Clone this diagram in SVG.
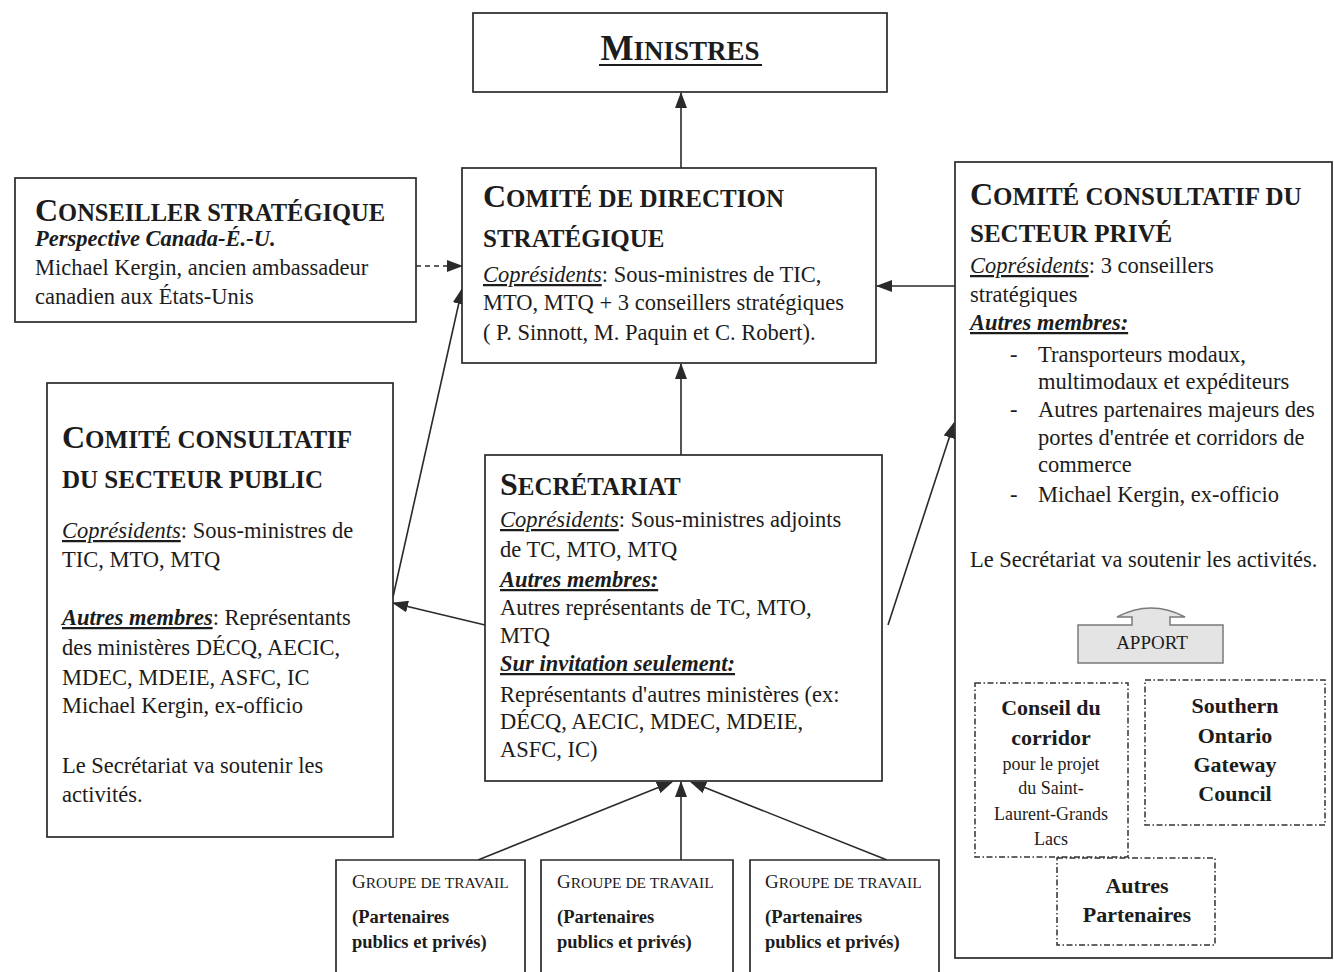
<svg xmlns="http://www.w3.org/2000/svg" width="1334" height="972" viewBox="0 0 1334 972">
<defs>
<style>
.t{font-family:"Liberation Serif","Times New Roman",serif;fill:#1c1c1c}
.b{font-size:22.5px}
.hd{font-weight:bold}
.box{fill:#fff;stroke:#2a2a2a;stroke-width:1.7}
.dd{fill:none;stroke:#333;stroke-width:1.5;stroke-dasharray:6 2.5 1.5 2.5}
.c{stroke:#2a2a2a;stroke-width:1.6;fill:none}
.u{text-decoration:underline}
.i{font-style:italic}
.bi{font-style:italic;font-weight:bold;text-decoration:underline}
.g{font-size:18.5px;font-weight:bold}
.sc{font-size:25px}
.cap{font-size:32px}
.gw{font-size:15.5px}
</style>
<marker id="ah" markerUnits="userSpaceOnUse" markerWidth="16" markerHeight="12" refX="15" refY="6" orient="auto">
<path d="M0,0 L16,6 L0,12 Z" fill="#2a2a2a"/>
</marker>
</defs>
<rect x="0" y="0" width="1334" height="972" fill="#fff"/>

<g id="connectors">
<line class="c" x1="681" y1="168" x2="681" y2="93" marker-end="url(#ah)"/>
<line class="c" x1="416" y1="266" x2="462" y2="266" stroke-dasharray="5 4" marker-end="url(#ah)"/>
<line class="c" x1="393" y1="597" x2="462" y2="289" marker-end="url(#ah)"/>
<line class="c" x1="955" y1="286" x2="877" y2="286" marker-end="url(#ah)"/>
<line class="c" x1="681" y1="455" x2="681" y2="364" marker-end="url(#ah)"/>
<line class="c" x1="485" y1="625" x2="393" y2="603" marker-end="url(#ah)"/>
<line class="c" x1="888" y1="625" x2="954" y2="423" marker-end="url(#ah)"/>
<line class="c" x1="478" y1="860" x2="672" y2="782" marker-end="url(#ah)"/>
<line class="c" x1="681" y1="860" x2="681" y2="782" marker-end="url(#ah)"/>
<line class="c" x1="887" y1="860" x2="691" y2="782" marker-end="url(#ah)"/>
</g>

<g id="ministres">
<rect class="box" x="473" y="13" width="414" height="79" stroke-width="2.4"/>
<text class="t hd" x="680" y="60" text-anchor="middle"><tspan font-size="35">M</tspan><tspan font-size="27">INISTRES</tspan></text>
<line x1="599" y1="65" x2="762" y2="65" stroke="#1c1c1c" stroke-width="2.2"/>
</g>

<g id="conseiller">
<rect class="box" x="15" y="178" width="401" height="144"/>
<text class="t hd" x="35" y="221"><tspan class="cap">C</tspan><tspan font-size="24.5">ONSEILLER STRATÉGIQUE</tspan></text>
<text class="t b" x="35" y="246" font-style="italic" font-weight="bold" font-size="20">Perspective Canada-É.-U.</text>
<text class="t b" x="35" y="275">Michael Kergin, ancien ambassadeur</text>
<text class="t b" x="35" y="304">canadien aux États-Unis</text>
</g>

<g id="direction">
<rect class="box" x="462" y="168" width="414" height="195"/>
<text class="t hd" x="483" y="207"><tspan class="cap">C</tspan><tspan class="sc">OMITÉ DE DIRECTION</tspan></text>
<text class="t hd sc" x="483" y="247">STRATÉGIQUE</text>
<text class="t b" x="483" y="282"><tspan class="i u">Coprésidents</tspan>: Sous-ministres de TIC,</text>
<text class="t b" x="483" y="310">MTO, MTQ + 3 conseillers stratégiques</text>
<text class="t b" x="483" y="340">( P. Sinnott, M. Paquin et C. Robert).</text>
</g>

<g id="prive">
<rect class="box" x="955" y="162" width="377" height="796"/>
<text class="t hd" x="970" y="205"><tspan class="cap">C</tspan><tspan class="sc">OMITÉ CONSULTATIF DU</tspan></text>
<text class="t hd sc" x="970" y="242">SECTEUR PRIVÉ</text>
<text class="t b" x="970" y="273"><tspan class="i u">Coprésidents</tspan>: 3 conseillers</text>
<text class="t b" x="970" y="302">stratégiques</text>
<text class="t b" x="970" y="330"><tspan class="bi">Autres membres:</tspan></text>
<text class="t b" x="1010" y="362">-</text>
<text class="t b" x="1038" y="362">Transporteurs modaux,</text>
<text class="t b" x="1038" y="389">multimodaux et expéditeurs</text>
<text class="t b" x="1010" y="417">-</text>
<text class="t b" x="1038" y="417">Autres partenaires majeurs des</text>
<text class="t b" x="1038" y="445">portes d'entrée et corridors de</text>
<text class="t b" x="1038" y="472">commerce</text>
<text class="t b" x="1010" y="502">-</text>
<text class="t b" x="1038" y="502">Michael Kergin, ex-officio</text>
<text class="t b" x="970" y="567">Le Secrétariat va soutenir les activités.</text>
</g>

<g id="apport">
<path d="M1078,625 H1132 V617 H1117 Q1151,599 1185,617 H1170 V625 H1223 V663 H1078 Z" fill="#e4e4e4" stroke="#7a7a7a" stroke-width="1.5"/>
<text class="t" x="1152" y="649" text-anchor="middle" font-size="19" fill="#3a3a3a">APPORT</text>
</g>

<g id="conseil-corridor">
<rect class="dd" x="975" y="683" width="153" height="174"/>
<text class="t hd" x="1051" y="715" text-anchor="middle" font-size="22">Conseil du</text>
<text class="t hd" x="1051" y="745" text-anchor="middle" font-size="22">corridor</text>
<text class="t" x="1051" y="770" text-anchor="middle" font-size="18">pour le projet</text>
<text class="t" x="1051" y="794" text-anchor="middle" font-size="18">du Saint-</text>
<text class="t" x="1051" y="820" text-anchor="middle" font-size="18">Laurent-Grands</text>
<text class="t" x="1051" y="845" text-anchor="middle" font-size="18">Lacs</text>
</g>

<g id="southern">
<rect class="dd" x="1145" y="680" width="180" height="145"/>
<text class="t hd" x="1235" y="713" text-anchor="middle" font-size="22">Southern</text>
<text class="t hd" x="1235" y="743" text-anchor="middle" font-size="22">Ontario</text>
<text class="t hd" x="1235" y="772" text-anchor="middle" font-size="22">Gateway</text>
<text class="t hd" x="1235" y="801" text-anchor="middle" font-size="22">Council</text>
</g>

<g id="autres-partenaires">
<rect class="dd" x="1057" y="858" width="158" height="87"/>
<text class="t hd" x="1137" y="893" text-anchor="middle" font-size="22">Autres</text>
<text class="t hd" x="1137" y="922" text-anchor="middle" font-size="22">Partenaires</text>
</g>

<g id="public">
<rect class="box" x="47" y="383" width="346" height="454"/>
<text class="t hd" x="62" y="448"><tspan class="cap">C</tspan><tspan class="sc">OMITÉ CONSULTATIF</tspan></text>
<text class="t hd sc" x="62" y="488">DU SECTEUR PUBLIC</text>
<text class="t b" x="62" y="538"><tspan class="i u">Coprésidents</tspan>: Sous-ministres de</text>
<text class="t b" x="62" y="567">TIC, MTO, MTQ</text>
<text class="t b" x="62" y="625"><tspan class="bi">Autres membres</tspan>: Représentants</text>
<text class="t b" x="62" y="655">des ministères DÉCQ, AECIC,</text>
<text class="t b" x="62" y="685">MDEC, MDEIE, ASFC, IC</text>
<text class="t b" x="62" y="713">Michael Kergin, ex-officio</text>
<text class="t b" x="62" y="773">Le Secrétariat va soutenir les</text>
<text class="t b" x="62" y="802">activités.</text>
</g>

<g id="secretariat">
<rect class="box" x="485" y="455" width="397" height="326"/>
<text class="t hd" x="500" y="495"><tspan class="cap">S</tspan><tspan class="sc">ECRÉTARIAT</tspan></text>
<text class="t b" x="500" y="527"><tspan class="i u">Coprésidents</tspan>: Sous-ministres adjoints</text>
<text class="t b" x="500" y="557">de TC, MTO, MTQ</text>
<text class="t b" x="500" y="587"><tspan class="bi">Autres membres:</tspan></text>
<text class="t b" x="500" y="615">Autres représentants de TC, MTO,</text>
<text class="t b" x="500" y="643">MTQ</text>
<text class="t b" x="500" y="671"><tspan class="bi">Sur invitation seulement:</tspan></text>
<text class="t b" x="500" y="702">Représentants d'autres ministères (ex:</text>
<text class="t b" x="500" y="729">DÉCQ, AECIC, MDEC, MDEIE,</text>
<text class="t b" x="500" y="757">ASFC, IC)</text>
</g>

<g id="groupe1">
<path class="box" d="M336,975 V860 H525 V975"/>
<text class="t" x="352" y="888"><tspan font-size="19">G</tspan><tspan class="gw">ROUPE DE TRAVAIL</tspan></text>
<text class="t g" x="352" y="923">(Partenaires</text>
<text class="t g" x="352" y="948">publics et privés)</text>
</g>
<g id="groupe2">
<path class="box" d="M541,975 V860 H733 V975"/>
<text class="t" x="557" y="888"><tspan font-size="19">G</tspan><tspan class="gw">ROUPE DE TRAVAIL</tspan></text>
<text class="t g" x="557" y="923">(Partenaires</text>
<text class="t g" x="557" y="948">publics et privés)</text>
</g>
<g id="groupe3">
<path class="box" d="M750,975 V860 H939 V975"/>
<text class="t" x="765" y="888"><tspan font-size="19">G</tspan><tspan class="gw">ROUPE DE TRAVAIL</tspan></text>
<text class="t g" x="765" y="923">(Partenaires</text>
<text class="t g" x="765" y="948">publics et privés)</text>
</g>
</svg>
